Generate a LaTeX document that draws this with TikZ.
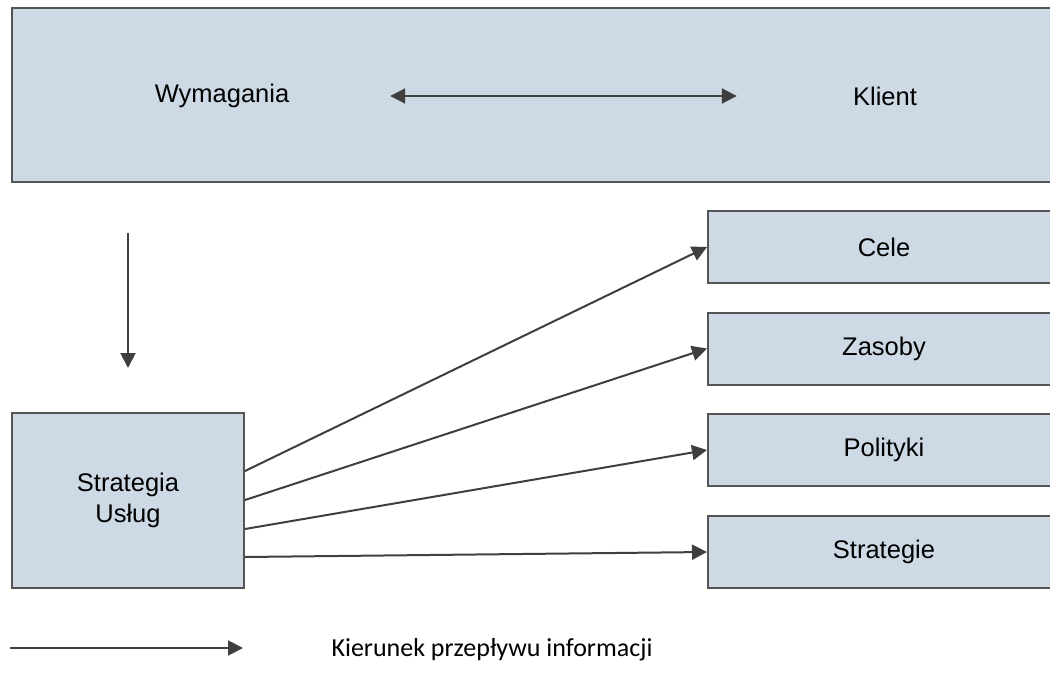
\documentclass[tikz,border=0pt]{standalone}
\usepackage{fontspec}
\setmainfont{Liberation Sans}
\newfontfamily\legendfont{Carlito}
\usetikzlibrary{arrows.meta,calc}
\definecolor{boxfill}{HTML}{CDD9E5}
\definecolor{boxline}{HTML}{555555}
\definecolor{arrowline}{HTML}{3F3F3F}
\begin{document}
\begin{tikzpicture}[x=1pt,y=-1pt,
  box/.style={draw=boxline,fill=boxfill,line width=2pt,inner sep=0pt},
  label/.style={font=\fontsize{25.5}{31}\selectfont,inner sep=0pt,align=center},
  flow/.style={draw=arrowline,line width=2pt,-{Triangle[length=15pt,width=15pt]}},
  flowboth/.style={draw=arrowline,line width=2pt,{Triangle[length=15pt,width=15pt]}-{Triangle[length=15pt,width=15pt]}}]
\useasboundingbox (0,0) rectangle (1050,690);

% top band
\node[box,minimum width=1050pt,minimum height=174pt] (top) at (537,95) {};
\node[label,minimum width=336pt] (wym) at (222,96) {Wymagania};
\node[label,minimum width=296pt] (kli) at (885,96) {Klient};
\draw[flowboth] (wym) -- (kli);

% service strategy box
\node[box,minimum width=232pt,minimum height=175pt,label] (strat) at (128,500.5) {Strategia\\Usług};
\draw[flow,shorten <=50pt,shorten >=44pt] (strat.north |- top.south) -- (strat.north);

% outcome boxes
\node[box,minimum width=352pt,minimum height=72pt,label] (cele) at (884,247) {Cele};
\node[box,minimum width=352pt,minimum height=72pt,label] (zas) at (884,348.5) {Zasoby};
\node[box,minimum width=352pt,minimum height=72pt,label] (pol) at (884,450) {Polityki};
\node[box,minimum width=352pt,minimum height=72pt,label] (str) at (884,552) {Strategie};

\draw[flow] ($(strat.north east)+(0,59)$) -- (cele.west);
\draw[flow] ($(strat.north east)+(0,88)$) -- (zas.west);
\draw[flow] ($(strat.north east)+(0,117)$) -- (pol.west);
\draw[flow] ($(strat.north east)+(0,145)$) -- (str.west);

% legend
\coordinate (legA) at (10,648);
\coordinate (legB) at (243,648);
\draw[flow] (legA) -- (legB);
\node[inner sep=0pt,font=\legendfont\fontsize{26}{30}\selectfont] (legtext) at (492,650) {Kierunek przepływu informacji};
\end{tikzpicture}
\end{document}
